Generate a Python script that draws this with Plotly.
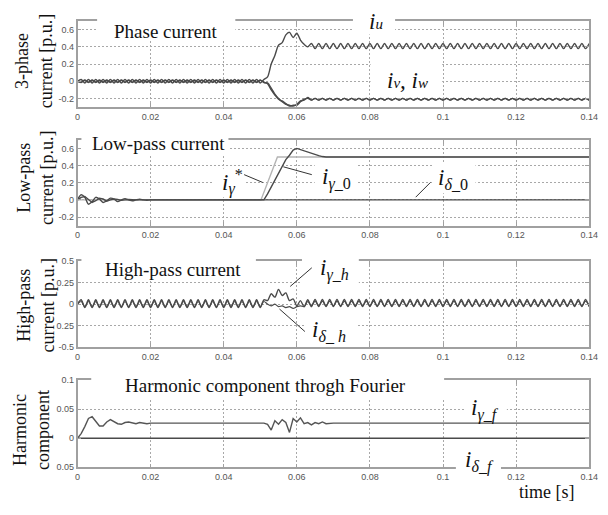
import plotly.graph_objects as go

# ---------------- data ----------------
t = [i / 1000 for i in range(141)]  # time grid [s]

iu = [
    0.00, 0.02, -0.02, 0.02, -0.02, 0.02, -0.02, 0.02, -0.02, 0.02,
    -0.02, 0.02, -0.02, 0.02, -0.02, 0.02, -0.02, 0.02, -0.02, 0.02,
    -0.02, 0.02, -0.02, 0.02, -0.02, 0.02, -0.02, 0.02, -0.02, 0.02,
    -0.02, 0.02, -0.02, 0.02, -0.02, 0.02, -0.02, 0.02, -0.02, 0.02,
    -0.02, 0.02, -0.02, 0.02, -0.02, 0.02, -0.02, 0.02, -0.02, 0.02,
    -0.02, 0.02, 0.05, 0.20, 0.30, 0.42, 0.45, 0.54, 0.57, 0.51,
    0.56, 0.48, 0.43, 0.40, 0.44, 0.38, 0.44, 0.38, 0.44, 0.38,
    0.44, 0.38, 0.44, 0.38, 0.44, 0.38, 0.44, 0.38, 0.44, 0.38,
    0.44, 0.38, 0.44, 0.38, 0.44, 0.38, 0.44, 0.38, 0.44, 0.38,
    0.44, 0.38, 0.44, 0.38, 0.44, 0.38, 0.44, 0.38, 0.44, 0.38,
    0.44, 0.38, 0.44, 0.38, 0.44, 0.38, 0.44, 0.38, 0.44, 0.38,
    0.44, 0.38, 0.44, 0.38, 0.44, 0.38, 0.44, 0.38, 0.44, 0.38,
    0.44, 0.38, 0.44, 0.38, 0.44, 0.38, 0.44, 0.38, 0.44, 0.38,
    0.44, 0.38, 0.44, 0.38, 0.44, 0.38, 0.44, 0.38, 0.44, 0.38,
    0.44,
]

iv = [
    0.00, -0.015, 0.015, -0.015, 0.015, -0.015, 0.015, -0.015, 0.015, -0.015,
    0.015, -0.015, 0.015, -0.015, 0.015, -0.015, 0.015, -0.015, 0.015, -0.015,
    0.015, -0.015, 0.015, -0.015, 0.015, -0.015, 0.015, -0.015, 0.015, -0.015,
    0.015, -0.015, 0.015, -0.015, 0.015, -0.015, 0.015, -0.015, 0.015, -0.015,
    0.015, -0.015, 0.015, -0.015, 0.015, -0.015, 0.015, -0.015, 0.015, -0.015,
    0.015, -0.015, -0.02, -0.08, -0.15, -0.20, -0.24, -0.27, -0.28, -0.29,
    -0.27, -0.23, -0.22, -0.19, -0.22, -0.20, -0.22, -0.20, -0.22, -0.20,
    -0.22, -0.20, -0.22, -0.20, -0.22, -0.20, -0.22, -0.20, -0.22, -0.20,
    -0.22, -0.20, -0.22, -0.20, -0.22, -0.20, -0.22, -0.20, -0.22, -0.20,
    -0.22, -0.20, -0.22, -0.20, -0.22, -0.20, -0.22, -0.20, -0.22, -0.20,
    -0.22, -0.20, -0.22, -0.20, -0.22, -0.20, -0.22, -0.20, -0.22, -0.20,
    -0.22, -0.20, -0.22, -0.20, -0.22, -0.20, -0.22, -0.20, -0.22, -0.20,
    -0.22, -0.20, -0.22, -0.20, -0.22, -0.20, -0.22, -0.20, -0.22, -0.20,
    -0.22, -0.20, -0.22, -0.20, -0.22, -0.20, -0.22, -0.20, -0.22, -0.20,
    -0.22,
]

iw = [
    0.00, -0.01, 0.01, -0.01, 0.01, -0.01, 0.01, -0.01, 0.01, -0.01,
    0.01, -0.01, 0.01, -0.01, 0.01, -0.01, 0.01, -0.01, 0.01, -0.01,
    0.01, -0.01, 0.01, -0.01, 0.01, -0.01, 0.01, -0.01, 0.01, -0.01,
    0.01, -0.01, 0.01, -0.01, 0.01, -0.01, 0.01, -0.01, 0.01, -0.01,
    0.01, -0.01, 0.01, -0.01, 0.01, -0.01, 0.01, -0.01, 0.01, -0.01,
    0.01, -0.01, -0.03, -0.10, -0.16, -0.21, -0.23, -0.26, -0.29, -0.28,
    -0.28, -0.24, -0.21, -0.20, -0.22, -0.20, -0.22, -0.20, -0.22, -0.20,
    -0.22, -0.20, -0.22, -0.20, -0.22, -0.20, -0.22, -0.20, -0.22, -0.20,
    -0.22, -0.20, -0.22, -0.20, -0.22, -0.20, -0.22, -0.20, -0.22, -0.20,
    -0.22, -0.20, -0.22, -0.20, -0.22, -0.20, -0.22, -0.20, -0.22, -0.20,
    -0.22, -0.20, -0.22, -0.20, -0.22, -0.20, -0.22, -0.20, -0.22, -0.20,
    -0.22, -0.20, -0.22, -0.20, -0.22, -0.20, -0.22, -0.20, -0.22, -0.20,
    -0.22, -0.20, -0.22, -0.20, -0.22, -0.20, -0.22, -0.20, -0.22, -0.20,
    -0.22, -0.20, -0.22, -0.20, -0.22, -0.20, -0.22, -0.20, -0.22, -0.20,
    -0.22,
]

t_gref = [0.000, 0.0502, 0.0547, 0.140]
ig_ref = [0.0, 0.0, 0.5, 0.5]

t_g0 = [0.000, 0.001, 0.002, 0.003, 0.004, 0.005, 0.006, 0.007, 0.008, 0.009,
        0.010, 0.011, 0.012, 0.013, 0.014, 0.016, 0.051,
        0.052, 0.053, 0.054, 0.055, 0.056, 0.057, 0.058, 0.059, 0.060,
        0.061, 0.062, 0.063, 0.064, 0.065, 0.066, 0.067, 0.068, 0.140]
ig_0 = [0.00, 0.03, 0.04, 0.00, -0.03, -0.01, 0.02, 0.01, -0.015, 0.00,
        0.01, 0.005, -0.005, 0.00, 0.005, 0.00, 0.00,
        0.07, 0.15, 0.23, 0.32, 0.40, 0.47, 0.52, 0.58, 0.60,
        0.585, 0.57, 0.56, 0.54, 0.53, 0.515, 0.505, 0.50, 0.50]

t_d0 = [0.000, 0.001, 0.002, 0.003, 0.004, 0.005, 0.006, 0.007, 0.008, 0.009,
        0.010, 0.011, 0.012, 0.013, 0.014, 0.015, 0.016, 0.017, 0.018, 0.019,
        0.020, 0.140]
id_0 = [0.00, 0.06, 0.03, -0.05, -0.02, 0.03, 0.01, -0.03, -0.01, 0.02,
        0.01, -0.02, 0.00, 0.015, 0.00, -0.01, 0.00, 0.008, 0.00, -0.004,
        0.00, 0.00]

ig_h = [
    0.00, 0.05, -0.04, 0.05, -0.04, 0.05, -0.04, 0.05, -0.04, 0.05,
    -0.04, 0.05, -0.04, 0.05, -0.04, 0.05, -0.04, 0.05, -0.04, 0.05,
    -0.04, 0.05, -0.04, 0.05, -0.04, 0.05, -0.04, 0.05, -0.04, 0.05,
    -0.04, 0.05, -0.04, 0.05, -0.04, 0.05, -0.04, 0.05, -0.04, 0.05,
    -0.04, 0.05, -0.04, 0.05, -0.04, 0.05, -0.04, 0.05, -0.04, 0.05,
    -0.04, 0.05, 0.04, 0.12, 0.08, 0.17, 0.10, 0.13, 0.04, 0.06,
    -0.02, 0.04, -0.03, 0.05, -0.03, 0.055, -0.03, 0.055, -0.03, 0.055,
    -0.03, 0.055, -0.03, 0.055, -0.03, 0.055, -0.03, 0.055, -0.03, 0.055,
    -0.03, 0.055, -0.03, 0.055, -0.03, 0.055, -0.03, 0.055, -0.03, 0.055,
    -0.03, 0.055, -0.03, 0.055, -0.03, 0.055, -0.03, 0.055, -0.03, 0.055,
    -0.03, 0.055, -0.03, 0.055, -0.03, 0.055, -0.03, 0.055, -0.03, 0.055,
    -0.03, 0.055, -0.03, 0.055, -0.03, 0.055, -0.03, 0.055, -0.03, 0.055,
    -0.03, 0.055, -0.03, 0.055, -0.03, 0.055, -0.03, 0.055, -0.03, 0.055,
    -0.03, 0.055, -0.03, 0.055, -0.03, 0.055, -0.03, 0.055, -0.03, 0.055,
    -0.03,
]

id_h = [
    0.00, 0.03, -0.03, 0.03, -0.03, 0.03, -0.03, 0.03, -0.03, 0.03,
    -0.03, 0.03, -0.03, 0.03, -0.03, 0.03, -0.03, 0.03, -0.03, 0.03,
    -0.03, 0.03, -0.03, 0.03, -0.03, 0.03, -0.03, 0.03, -0.03, 0.03,
    -0.03, 0.03, -0.03, 0.03, -0.03, 0.03, -0.03, 0.03, -0.03, 0.03,
    -0.03, 0.03, -0.03, 0.03, -0.03, 0.03, -0.03, 0.03, -0.03, 0.03,
    -0.03, 0.03, 0.00, -0.02, 0.00, -0.03, -0.02, -0.04, -0.03, -0.05,
    -0.03, -0.02, -0.03, 0.03, -0.02, 0.035, -0.02, 0.035, -0.02, 0.035,
    -0.02, 0.035, -0.02, 0.035, -0.02, 0.035, -0.02, 0.035, -0.02, 0.035,
    -0.02, 0.035, -0.02, 0.035, -0.02, 0.035, -0.02, 0.035, -0.02, 0.035,
    -0.02, 0.035, -0.02, 0.035, -0.02, 0.035, -0.02, 0.035, -0.02, 0.035,
    -0.02, 0.035, -0.02, 0.035, -0.02, 0.035, -0.02, 0.035, -0.02, 0.035,
    -0.02, 0.035, -0.02, 0.035, -0.02, 0.035, -0.02, 0.035, -0.02, 0.035,
    -0.02, 0.035, -0.02, 0.035, -0.02, 0.035, -0.02, 0.035, -0.02, 0.035,
    -0.02, 0.035, -0.02, 0.035, -0.02, 0.035, -0.02, 0.035, -0.02, 0.035,
    -0.02,
]

t_gf = [0.000, 0.001, 0.002, 0.003, 0.004, 0.005, 0.006, 0.007, 0.008, 0.009,
        0.010, 0.011, 0.012, 0.013, 0.014, 0.015, 0.016, 0.017, 0.018, 0.019,
        0.020, 0.051,
        0.052, 0.053, 0.054, 0.055, 0.056, 0.057, 0.058, 0.059, 0.060, 0.061,
        0.062, 0.063, 0.064, 0.065, 0.066, 0.067, 0.068, 0.069, 0.070,
        0.140]
ig_f = [0.000, 0.008, 0.020, 0.034, 0.037, 0.029, 0.021, 0.021, 0.028, 0.032,
        0.029, 0.025, 0.024, 0.027, 0.028, 0.026, 0.025, 0.027, 0.026, 0.025,
        0.026, 0.026,
        0.024, 0.014, 0.030, 0.024, 0.032, 0.027, 0.010, 0.034, 0.028, 0.035,
        0.025, 0.027, 0.023, 0.027, 0.025, 0.028, 0.025, 0.026, 0.026,
        0.026]

t_df = [0.000, 0.140]
id_f = [0.0, 0.0]

x_ticks = [0, 0.02, 0.04, 0.06, 0.08, 0.10, 0.12, 0.14]
x_ticktext = ["0", "0.02", "0.04", "0.06", "0.08", "0.1", "0.12", "0.14"]
y1_ticks = [-0.2, 0, 0.2, 0.4, 0.6]
y1_text = ["-0.2", "0", "0.2", "0.4", "0.6"]
y3_ticks = [-0.5, -0.25, 0, 0.25, 0.5]
y3_text = ["-0.5", "0.25", "0", "0.25", "0.5"]
y4_ticks = [-0.05, 0, 0.05, 0.1]
y4_text = ["0.05", "0", "0.05", "0.1"]

# ---------------- layout helpers ----------------
W, H = 608, 515
def X(px):
    return px / W
def Y(py):
    return 1 - py / H

DARK = "#4a4a4a"
LIGHT = "#b4b4b4"
SERIF = "Liberation Serif, Times New Roman, serif"

fig = go.Figure()

def add(xv, yv, ax, color=DARK, spline=False, width=1.4):
    fig.add_trace(go.Scatter(
        x=xv, y=yv, mode="lines", xaxis="x" + ax, yaxis="y" + ax,
        line=dict(color=color, width=width,
                  shape="spline" if spline else "linear", smoothing=0.8),
        showlegend=False, hoverinfo="skip"))

add(t, iw, "", spline=True)
add(t, iv, "", spline=True)
add(t, iu, "", spline=True)
add(t_gref, ig_ref, "2", color=LIGHT)
add(t_d0, id_0, "2", spline=True)
add(t_g0, ig_0, "2")
add(t, id_h, "3", spline=True, width=1.2)
add(t, ig_h, "3", spline=True)
add(t_df, id_f, "4")
add(t_gf, ig_f, "4", color="#555555")

common_axis = dict(
    showline=True, linecolor="#a0a0a0", linewidth=1.5, mirror="ticks",
    ticks="inside", ticklen=4, tickcolor="#a0a0a0",
    showgrid=True, gridcolor="#a8a8a8", griddash="2px,2px", gridwidth=1,
    zeroline=False,
    tickfont=dict(family="Liberation Sans, Arial", size=9, color="#555555"),
)

panels = [
    ("", 16.5, 104, [-0.3, 0.7], y1_ticks, y1_text),
    ("2", 137.5, 225, [-0.3, 0.7], y1_ticks, y1_text),
    ("3", 261, 349, [-0.5, 0.5], y3_ticks, y3_text),
    ("4", 382.5, 471.5, [-0.05, 0.1], y4_ticks, y4_text),
]
lay = {}
for ax, top, bot, yr, yt, ytt in panels:
    lay["xaxis" + ax] = dict(common_axis, domain=[X(76), X(598)], anchor="y" + ax,
                             range=[0, 0.14], tickvals=x_ticks, ticktext=x_ticktext)
    lay["yaxis" + ax] = dict(common_axis, domain=[Y(bot), Y(top)], anchor="x" + ax,
                             range=yr, tickvals=yt, ticktext=ytt)

# white label boxes (pixels x0, x1, y0, y1)
boxes = [
    (96, 237, 4, 36), (357, 400, 4, 30), (375, 448, 57, 89),
    (80, 230, 127, 154), (215, 247, 167, 196), (318, 362, 162, 192),
    (438, 482, 162, 192),
    (80, 258, 251, 280), (305, 363, 251, 286), (308, 362, 318, 346),
    (90, 450, 371, 402), (472, 514, 400, 424), (462, 508, 452, 480),
]
shapes = []
for x0, x1, y0, y1 in boxes:
    shapes.append(dict(type="rect", xref="paper", yref="paper",
                       x0=X(x0), x1=X(x1), y0=Y(y1), y1=Y(y0),
                       fillcolor="white", line=dict(width=0), layer="above"))
leaders = [
    (246, 173, 265, 181), (286, 165, 315, 173), (436, 181, 421, 196),
    (293, 287, 315, 268), (282, 310, 308, 333),
]
for x0, y0, x1, y1 in leaders:
    shapes.append(dict(type="line", xref="paper", yref="paper",
                       x0=X(x0), y0=Y(y0), x1=X(x1), y1=Y(y1),
                       line=dict(color="#333333", width=1), layer="above"))

annotations = []
def note(text, px, py, size=19, angle=0):
    annotations.append(dict(
        text=text, xref="paper", yref="paper", x=X(px), y=Y(py),
        xanchor="center", yanchor="middle", showarrow=False, textangle=angle,
        font=dict(family=SERIF, size=size, color="#111111")))

note("Phase current", 166, 27)
note("Low-pass current", 159, 141)
note("High-pass current", 173, 270)
note("Harmonic component throgh Fourier", 268, 388)
note("time [s]", 555, 497, size=18)

note("3-phase<br>current [p.u.]", 32, 57, size=18, angle=-90)
note("Low-pass<br>current [p.u.]", 33, 176, size=18, angle=-90)
note("High-pass<br>current [p.u.]", 33, 306, size=18, angle=-90)
note("Harmonic<br>component", 29, 433, size=18, angle=-90)

note("<i>i<span style='font-size:15px'>u</span></i>", 380, 17, size=23)
note("<i>i<span style='font-size:15px'>v</span>, i<span style='font-size:15px'>w</span></i>", 413, 77, size=23)
note("<i>i</i><sub><i>γ</i></sub><sup>*</sup>", 234, 180, size=23)
note("<i>i</i><sub><i>γ</i>_0</sub>", 340, 177, size=23)
note("<i>i</i><sub><i>δ</i>_0</sub>", 459, 177, size=23)
note("<i>i</i><sub><i>γ</i>_<i>h</i></sub>", 338, 270, size=23)
note("<i>i</i><sub><i>δ</i>_ <i>h</i></sub>", 333, 332, size=23)
note("<i>i</i><sub><i>γ</i>_<i>f</i></sub>", 492, 412, size=23)
note("<i>i</i><sub><i>δ</i>_<i>f</i></sub>", 486, 466, size=23)

fig.update_layout(
    width=W, height=H, autosize=False,
    margin=dict(l=0, r=0, t=0, b=0),
    paper_bgcolor="white", plot_bgcolor="white",
    shapes=shapes, annotations=annotations, showlegend=False,
    **lay)

fig.write_html("out.html")
